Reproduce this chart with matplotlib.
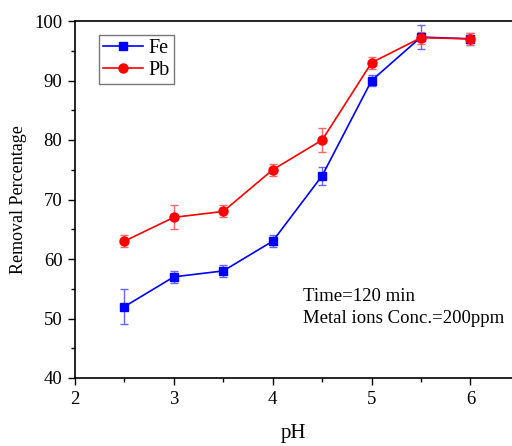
import numpy as np
import matplotlib.pyplot as plt

# pH values and removal percentages
ph = [2.5, 3.0, 3.5, 4.0, 4.5, 5.0, 5.5, 6.0]
fe = [52, 57, 58, 63, 74, 90, 97.3, 97]
fe_err = [3, 1, 1, 1, 1.5, 1, 2, 1]
pb = [63, 67, 68, 75, 80, 93, 97.2, 97]
pb_err = [1, 2, 1, 1, 2, 1, 1, 1]

plt.rcParams['font.family'] = ['Liberation Serif', 'DejaVu Serif']

fig = plt.figure(figsize=(5.12, 4.46), dpi=100)
ax = fig.add_axes([75/512, 68/446, 437/512, 357/446])

# error bars first, then the lines and markers on top
ax.errorbar(ph, fe, yerr=fe_err, fmt='none', ecolor='#6666ff', elinewidth=1, capsize=3)
ax.errorbar(ph, pb, yerr=pb_err, fmt='none', ecolor='#ff6666', elinewidth=1, capsize=3)
ax.plot(ph, fe, color='#0000ff', marker='s', ms=5.5, lw=1.2, label='Fe')
ax.plot(ph, pb, color='#ff0000', marker='o', ms=6.5, lw=1.2, label='Pb')

ax.set_xlim(2, 6.42)
ax.set_ylim(40, 100)
ax.set_xticks([2, 3, 4, 5, 6])
ax.set_xticks(np.arange(2.5, 6.5, 1), minor=True)
ax.set_yticks(np.arange(40, 101, 10))
ax.set_yticks(np.arange(45, 100, 10), minor=True)
ax.tick_params(which='major', direction='out', length=5, width=1, labelsize=13.5, pad=4)
ax.tick_params(which='minor', direction='out', length=3, width=1)
ax.spines['right'].set_visible(False)
for s in ['left', 'bottom', 'top']:
    ax.spines[s].set_linewidth(1.2)

ax.set_xlabel('pH', fontsize=15, labelpad=12)
ax.set_ylabel('Removal Percentage', fontsize=13, labelpad=5)

ax.text(4.31, 53.0, 'Time=120 min', fontsize=13.5)
ax.text(4.31, 49.3, 'Metal ions Conc.=200ppm', fontsize=13.5)

leg = ax.legend(loc='upper left', bbox_to_anchor=(0.055, 0.961), borderaxespad=0,
                fontsize=14.5, fancybox=False, edgecolor='#555555', handlelength=2.0,
                borderpad=0.2, labelspacing=0.15, handletextpad=0.25)
leg.get_frame().set_linewidth(1)

fig.savefig('out.png', dpi=100)
